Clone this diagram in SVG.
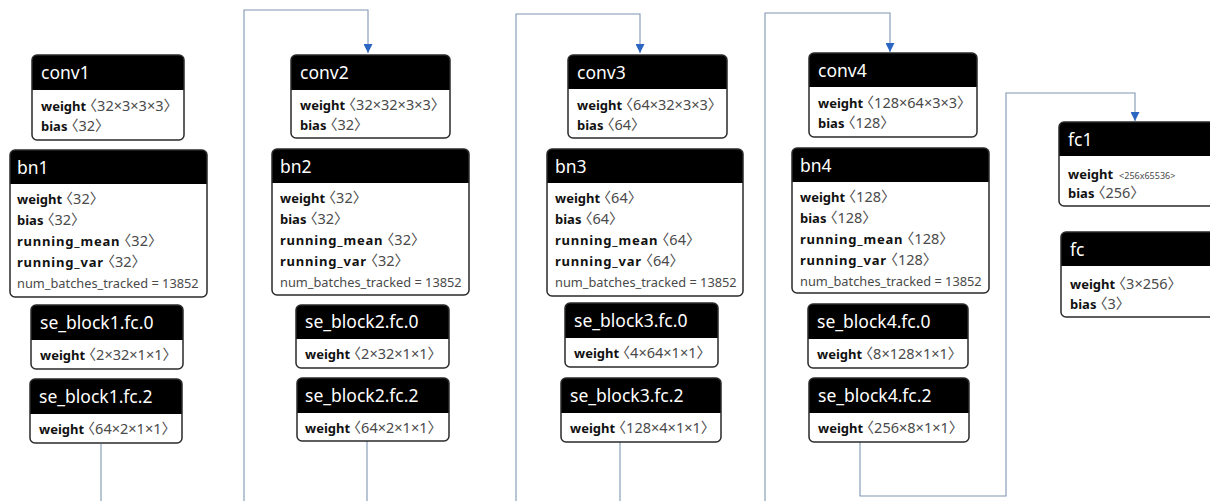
<svg xmlns="http://www.w3.org/2000/svg" width="1210" height="501" viewBox="0 0 1210 501">
  <defs>
    <marker id="arrow" viewBox="0 0 10 10" refX="10" refY="5" markerWidth="9" markerHeight="9" markerUnits="userSpaceOnUse" orient="auto">
      <path d="M0,0 L10,5 L0,10 z" fill="#2b66c2"/>
    </marker>
    <style>
      .hdr { fill: #000; }
      .frame { fill: none; stroke: #2a2a2a; stroke-width: 1.5; }
      .bg { fill: #fff; }
      .title { font-family: "Noto Sans", "Noto Sans CJK KR", sans-serif; font-size: 17.5px; fill: #fff; }
      .row { font-family: "Noto Sans", "Noto Sans CJK KR", sans-serif; font-size: 14.5px; fill: #4a4a4a; font-feature-settings: "halt"; }
      .row .k { font-weight: bold; font-size: 13px; fill: #111; }
      .row .kw { letter-spacing: 0.8px; }
      .plain { font-size: 12.8px; }
      .small { font-size: 9px; }
      .edge { fill: none; stroke: #7f96b2; stroke-width: 1.1; }
    </style>
  </defs>
  <rect width="1210" height="501" fill="#fff"/>

  <!-- connectors between stages -->
  <g id="connectors">
    <path class="edge" d="M101,444 V520 H244 V10 H368 V53" marker-end="url(#arrow)"/>
    <path class="edge" d="M367,441 V520 H516 V14 H640 V53" marker-end="url(#arrow)"/>
    <path class="edge" d="M620,442 V520 H765 V13 H890 V52" marker-end="url(#arrow)"/>
    <path class="edge" d="M860,442 V496 H1006 V93 H1135 V121" marker-end="url(#arrow)"/>
  </g>

  <!-- stage 1 -->
  <g id="conv1">
    <rect class="bg" x="32" y="55" width="152" height="85" rx="5"/>
    <path class="hdr" d="M32,90 V60 a5,5 0 0 1 5,-5 H179 a5,5 0 0 1 5,5 V90 z"/>
    <rect class="frame" x="32" y="55" width="152" height="85" rx="5"/>
    <text class="title" x="41" y="79">conv1</text>
    <text class="row" x="41" y="111"><tspan class="k">weight</tspan> 〈32×3×3×3〉</text>
    <text class="row" x="41" y="131"><tspan class="k">bias</tspan> 〈32〉</text>
  </g>
  <g id="bn1">
    <rect class="bg" x="10" y="150" width="197" height="147" rx="5"/>
    <path class="hdr" d="M10,184 V155 a5,5 0 0 1 5,-5 H202 a5,5 0 0 1 5,5 V184 z"/>
    <rect class="frame" x="10" y="150" width="197" height="147" rx="5"/>
    <text class="title" x="17" y="174">bn1</text>
    <text class="row" x="17" y="204"><tspan class="k">weight</tspan> 〈32〉</text>
    <text class="row" x="17" y="225"><tspan class="k">bias</tspan> 〈32〉</text>
    <text class="row" x="17" y="246"><tspan class="k kw">running_mean</tspan> 〈32〉</text>
    <text class="row" x="17" y="267"><tspan class="k kw">running_var</tspan> 〈32〉</text>
    <text class="row plain" x="17" y="288">num_batches_tracked = 13852</text>
  </g>
  <g id="se_block1.fc.0">
    <rect class="bg" x="31" y="305" width="152" height="64" rx="5"/>
    <path class="hdr" d="M31,340 V310 a5,5 0 0 1 5,-5 H178 a5,5 0 0 1 5,5 V340 z"/>
    <rect class="frame" x="31" y="305" width="152" height="64" rx="5"/>
    <text class="title" x="40" y="329">se_block1.fc.0</text>
    <text class="row" x="40" y="360"><tspan class="k">weight</tspan> 〈2×32×1×1〉</text>
  </g>
  <g id="se_block1.fc.2">
    <rect class="bg" x="30" y="379" width="152" height="64" rx="5"/>
    <path class="hdr" d="M30,414 V384 a5,5 0 0 1 5,-5 H177 a5,5 0 0 1 5,5 V414 z"/>
    <rect class="frame" x="30" y="379" width="152" height="64" rx="5"/>
    <text class="title" x="39" y="403">se_block1.fc.2</text>
    <text class="row" x="39" y="434"><tspan class="k">weight</tspan> 〈64×2×1×1〉</text>
  </g>

  <!-- stage 2 -->
  <g id="conv2">
    <rect class="bg" x="291" y="55" width="159" height="83" rx="5"/>
    <path class="hdr" d="M291,90 V60 a5,5 0 0 1 5,-5 H445 a5,5 0 0 1 5,5 V90 z"/>
    <rect class="frame" x="291" y="55" width="159" height="83" rx="5"/>
    <text class="title" x="300" y="79">conv2</text>
    <text class="row" x="300" y="110"><tspan class="k">weight</tspan> 〈32×32×3×3〉</text>
    <text class="row" x="300" y="130"><tspan class="k">bias</tspan> 〈32〉</text>
  </g>
  <g id="bn2">
    <rect class="bg" x="272" y="149" width="197" height="146" rx="5"/>
    <path class="hdr" d="M272,183 V154 a5,5 0 0 1 5,-5 H464 a5,5 0 0 1 5,5 V183 z"/>
    <rect class="frame" x="272" y="149" width="197" height="146" rx="5"/>
    <text class="title" x="280" y="173">bn2</text>
    <text class="row" x="280" y="203"><tspan class="k">weight</tspan> 〈32〉</text>
    <text class="row" x="280" y="224"><tspan class="k">bias</tspan> 〈32〉</text>
    <text class="row" x="280" y="245"><tspan class="k kw">running_mean</tspan> 〈32〉</text>
    <text class="row" x="280" y="266"><tspan class="k kw">running_var</tspan> 〈32〉</text>
    <text class="row plain" x="280" y="287">num_batches_tracked = 13852</text>
  </g>
  <g id="se_block2.fc.0">
    <rect class="bg" x="296" y="305" width="153" height="63" rx="5"/>
    <path class="hdr" d="M296,339 V310 a5,5 0 0 1 5,-5 H444 a5,5 0 0 1 5,5 V339 z"/>
    <rect class="frame" x="296" y="305" width="153" height="63" rx="5"/>
    <text class="title" x="305" y="328">se_block2.fc.0</text>
    <text class="row" x="305" y="359"><tspan class="k">weight</tspan> 〈2×32×1×1〉</text>
  </g>
  <g id="se_block2.fc.2">
    <rect class="bg" x="297" y="378" width="152" height="63" rx="5"/>
    <path class="hdr" d="M297,413 V383 a5,5 0 0 1 5,-5 H444 a5,5 0 0 1 5,5 V413 z"/>
    <rect class="frame" x="297" y="378" width="152" height="63" rx="5"/>
    <text class="title" x="305" y="402">se_block2.fc.2</text>
    <text class="row" x="305" y="433"><tspan class="k">weight</tspan> 〈64×2×1×1〉</text>
  </g>

  <!-- stage 3 -->
  <g id="conv3">
    <rect class="bg" x="568" y="55" width="159" height="83" rx="5"/>
    <path class="hdr" d="M568,89 V60 a5,5 0 0 1 5,-5 H722 a5,5 0 0 1 5,5 V89 z"/>
    <rect class="frame" x="568" y="55" width="159" height="83" rx="5"/>
    <text class="title" x="577" y="79">conv3</text>
    <text class="row" x="577" y="110"><tspan class="k">weight</tspan> 〈64×32×3×3〉</text>
    <text class="row" x="577" y="130"><tspan class="k">bias</tspan> 〈64〉</text>
  </g>
  <g id="bn3">
    <rect class="bg" x="547" y="149" width="196" height="147" rx="5"/>
    <path class="hdr" d="M547,183 V154 a5,5 0 0 1 5,-5 H738 a5,5 0 0 1 5,5 V183 z"/>
    <rect class="frame" x="547" y="149" width="196" height="147" rx="5"/>
    <text class="title" x="555" y="173">bn3</text>
    <text class="row" x="555" y="203"><tspan class="k">weight</tspan> 〈64〉</text>
    <text class="row" x="555" y="224"><tspan class="k">bias</tspan> 〈64〉</text>
    <text class="row" x="555" y="245"><tspan class="k kw">running_mean</tspan> 〈64〉</text>
    <text class="row" x="555" y="266"><tspan class="k kw">running_var</tspan> 〈64〉</text>
    <text class="row plain" x="555" y="287">num_batches_tracked = 13852</text>
  </g>
  <g id="se_block3.fc.0">
    <rect class="bg" x="565" y="303" width="153" height="64" rx="5"/>
    <path class="hdr" d="M565,338 V308 a5,5 0 0 1 5,-5 H713 a5,5 0 0 1 5,5 V338 z"/>
    <rect class="frame" x="565" y="303" width="153" height="64" rx="5"/>
    <text class="title" x="574" y="327">se_block3.fc.0</text>
    <text class="row" x="574" y="358"><tspan class="k">weight</tspan> 〈4×64×1×1〉</text>
  </g>
  <g id="se_block3.fc.2">
    <rect class="bg" x="561" y="378" width="160" height="64" rx="5"/>
    <path class="hdr" d="M561,413 V383 a5,5 0 0 1 5,-5 H716 a5,5 0 0 1 5,5 V413 z"/>
    <rect class="frame" x="561" y="378" width="160" height="64" rx="5"/>
    <text class="title" x="570" y="402">se_block3.fc.2</text>
    <text class="row" x="570" y="433"><tspan class="k">weight</tspan> 〈128×4×1×1〉</text>
  </g>

  <!-- stage 4 -->
  <g id="conv4">
    <rect class="bg" x="809" y="53" width="168" height="84" rx="5"/>
    <path class="hdr" d="M809,87 V58 a5,5 0 0 1 5,-5 H972 a5,5 0 0 1 5,5 V87 z"/>
    <rect class="frame" x="809" y="53" width="168" height="84" rx="5"/>
    <text class="title" x="818" y="77">conv4</text>
    <text class="row" x="818" y="108"><tspan class="k">weight</tspan> 〈128×64×3×3〉</text>
    <text class="row" x="818" y="128"><tspan class="k">bias</tspan> 〈128〉</text>
  </g>
  <g id="bn4">
    <rect class="bg" x="792" y="148" width="197" height="145" rx="5"/>
    <path class="hdr" d="M792,182 V153 a5,5 0 0 1 5,-5 H984 a5,5 0 0 1 5,5 V182 z"/>
    <rect class="frame" x="792" y="148" width="197" height="145" rx="5"/>
    <text class="title" x="800" y="172">bn4</text>
    <text class="row" x="800" y="202"><tspan class="k">weight</tspan> 〈128〉</text>
    <text class="row" x="800" y="223"><tspan class="k">bias</tspan> 〈128〉</text>
    <text class="row" x="800" y="244"><tspan class="k kw">running_mean</tspan> 〈128〉</text>
    <text class="row" x="800" y="265"><tspan class="k kw">running_var</tspan> 〈128〉</text>
    <text class="row plain" x="800" y="286">num_batches_tracked = 13852</text>
  </g>
  <g id="se_block4.fc.0">
    <rect class="bg" x="808" y="304" width="160" height="64" rx="5"/>
    <path class="hdr" d="M808,339 V309 a5,5 0 0 1 5,-5 H963 a5,5 0 0 1 5,5 V339 z"/>
    <rect class="frame" x="808" y="304" width="160" height="64" rx="5"/>
    <text class="title" x="817" y="328">se_block4.fc.0</text>
    <text class="row" x="817" y="359"><tspan class="k">weight</tspan> 〈8×128×1×1〉</text>
  </g>
  <g id="se_block4.fc.2">
    <rect class="bg" x="809" y="378" width="160" height="64" rx="5"/>
    <path class="hdr" d="M809,413 V383 a5,5 0 0 1 5,-5 H964 a5,5 0 0 1 5,5 V413 z"/>
    <rect class="frame" x="809" y="378" width="160" height="64" rx="5"/>
    <text class="title" x="818" y="402">se_block4.fc.2</text>
    <text class="row" x="818" y="433"><tspan class="k">weight</tspan> 〈256×8×1×1〉</text>
  </g>

  <!-- classifier head -->
  <g id="fc1">
    <rect class="bg" x="1059" y="122" width="170" height="84" rx="5"/>
    <path class="hdr" d="M1059,156 V127 a5,5 0 0 1 5,-5 H1224 a5,5 0 0 1 5,5 V156 z"/>
    <rect class="frame" x="1059" y="122" width="170" height="84" rx="5"/>
    <text class="title" x="1068" y="146">fc1</text>
    <text class="row" x="1068" y="179"><tspan class="k">weight</tspan><tspan class="small" dx="6">&lt;256x65536&gt;</tspan></text>
    <text class="row" x="1068" y="198"><tspan class="k">bias</tspan> 〈256〉</text>
  </g>
  <g id="fc">
    <rect class="bg" x="1061" y="232" width="170" height="85" rx="5"/>
    <path class="hdr" d="M1061,266 V237 a5,5 0 0 1 5,-5 H1226 a5,5 0 0 1 5,5 V266 z"/>
    <rect class="frame" x="1061" y="232" width="170" height="85" rx="5"/>
    <text class="title" x="1070" y="256">fc</text>
    <text class="row" x="1070" y="289"><tspan class="k">weight</tspan> 〈3×256〉</text>
    <text class="row" x="1070" y="309"><tspan class="k">bias</tspan> 〈3〉</text>
  </g>
</svg>
